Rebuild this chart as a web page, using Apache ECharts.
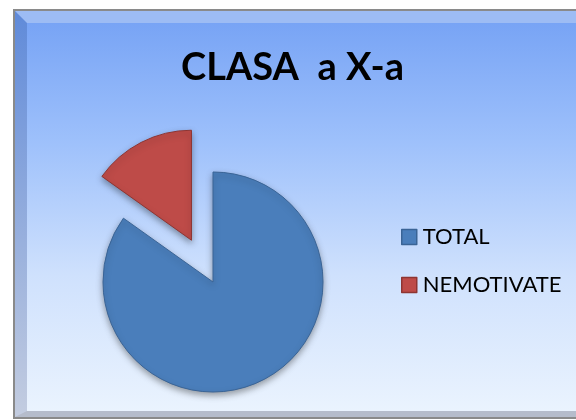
<!DOCTYPE html>
<html>
<head>
<meta charset="utf-8">
<script src="https://cdn.jsdelivr.net/npm/echarts@6/dist/echarts.min.js"></script>
<style>
	html, body { margin: 0; padding: 0; background: #fff; }
	#main { width: 576px; height: 420px; }
</style>
</head>
<body>
<div id="main"></div>
<script>
// date grafic
var titlu = 'CLASA  a X-a';
var categorii = ['TOTAL', 'NEMOTIVATE'];
var valori = [28, 5];
var culori = ['#4a7ebb', '#be4b48'];
var margini = ['#3a6496', '#8e3532'];

(function () {
	var myChart = echarts.init(document.getElementById('main'));

	var date = categorii.map(function (c, i) {
		return {
			name: c,
			value: valori[i],
			selected: i === 1,
			itemStyle: { color: culori[i], borderColor: margini[i] }
		};
	});

	var option = {
		backgroundColor: '#fff',
		animation: false,
		graphic: [
			{
				// rama
				type: 'rect',
				shape: { x: 14, y: 10, width: 600, height: 408 },
				style: {
					fill: new echarts.graphic.LinearGradient(0, 0, 0, 1, [
						{ offset: 0, color: '#5f8ad9' },
						{ offset: 1, color: '#c4cde0' }
					]),
					stroke: '#8a8a8a',
					lineWidth: 2
				},
				z: -10
			},
			{
				type: 'polygon',
				shape: { points: [[15, 11], [614, 11], [614, 23], [27, 23]] },
				style: { fill: '#9dbcf4' },
				z: -9
			},
			{
				type: 'polygon',
				shape: { points: [[15, 417], [614, 417], [614, 411], [27, 411]] },
				style: { fill: '#b5bccb' },
				z: -9
			},
			{
				type: 'rect',
				shape: { x: 27, y: 23, width: 600, height: 388 },
				style: {
					fill: new echarts.graphic.LinearGradient(0, 0, 0, 1, [
						{ offset: 0, color: '#78a4f5' },
						{ offset: 0.3, color: '#9dc0fb' },
						{ offset: 0.65, color: '#cfe1fd' },
						{ offset: 1, color: '#eaf3fe' }
					])
				},
				z: -8
			}
		],
		title: {
			text: titlu,
			left: 176,
			top: 44,
			textStyle: {
				fontFamily: 'Lato',
				fontSize: 38,
				fontWeight: 'bold',
				color: '#000'
			}
		},
		legend: {
			orient: 'vertical',
			left: 396,
			top: 221,
			itemWidth: 15,
			itemHeight: 15,
			itemGap: 26,
			icon: 'rect',
			selectedMode: false,
			data: categorii,
			itemStyle: { borderWidth: 1.5 },
			textStyle: {
				fontFamily: 'Lato',
				fontSize: 22,
				color: '#000',
				lineHeight: 22,
				padding: [0, 0, 0, 1]
			}
		},
		series: [
			{
				name: 'Clasa',
				type: 'pie',
				radius: 110,
				center: [213, 282],
				selectedMode: 'single',
				selectedOffset: 47,
				label: { show: false },
				labelLine: { show: false },
				emphasis: { disabled: true },
				itemStyle: {
					borderWidth: 1,
					shadowBlur: 6,
					shadowOffsetY: 3,
					shadowColor: 'rgba(0, 0, 0, 0.35)'
				},
				data: date
			}
		]
	};
	myChart.setOption(option);
})();
</script>
</body>
</html>
